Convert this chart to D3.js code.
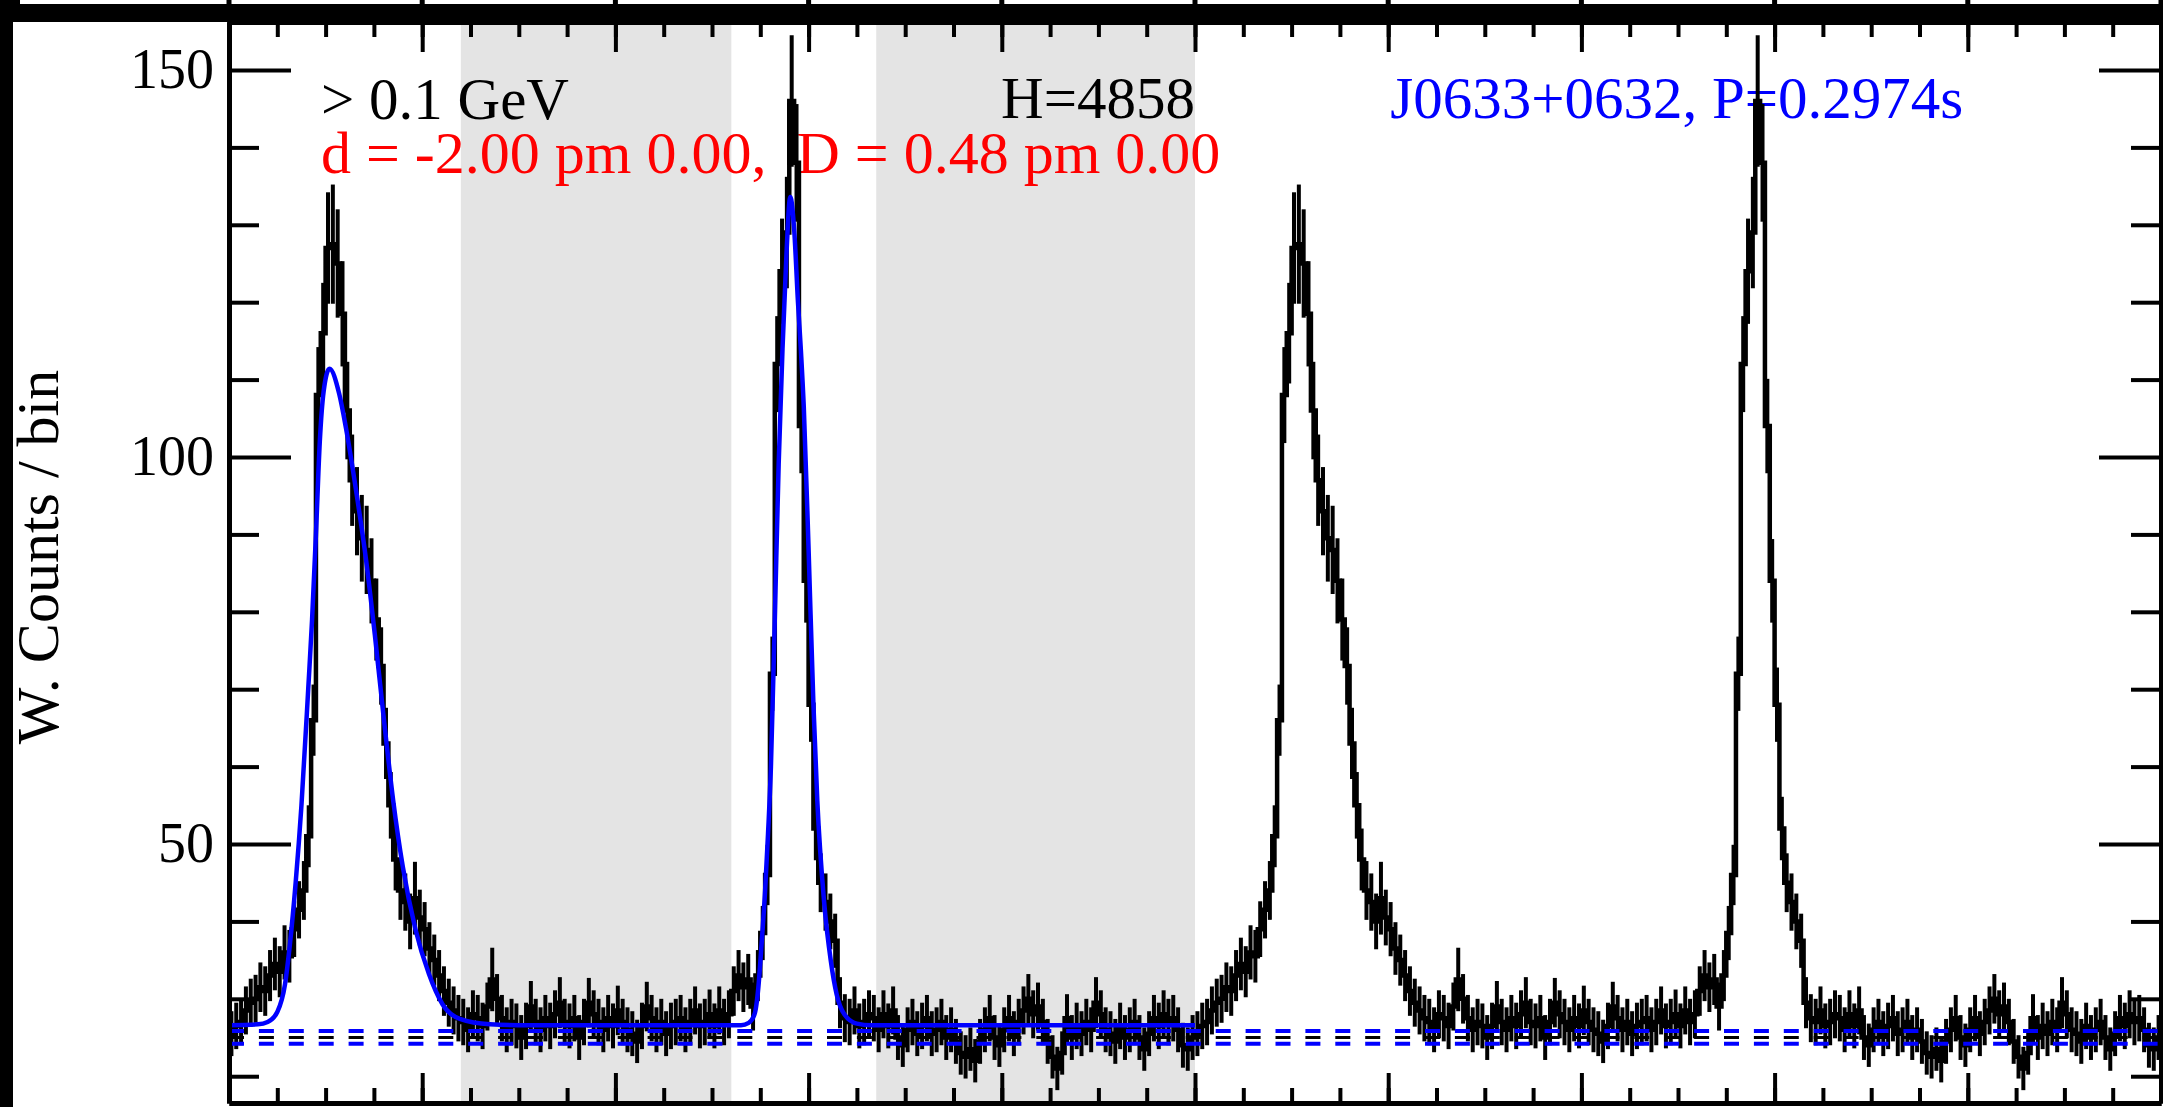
<!DOCTYPE html>
<html>
<head>
<meta charset="utf-8">
<title>J0633+0632 light curve</title>
<script src="https://cdn.jsdelivr.net/npm/d3@7"></script>
<style>
    html, body { margin: 0; padding: 0; background: #000; }
    svg { display: block; }
    text { font-family: 'Liberation Serif', 'DejaVu Serif', serif; }
</style>
</head>
<body>
<div id="chart"></div>
<script>
// weighted counts per phase bin, one rotation (200 bins), drawn twice
const counts = [
    25.5, 26.5, 27.0, 28.5, 29.5, 30.0, 31.5, 31.0, 33.0, 34.5,
    33.5, 36.0, 35.5, 39.0, 41.5, 44.0, 51.0, 66.0, 108.0, 116.0,
    127.0, 127.5, 125.0, 118.5, 106.0, 97.0, 93.0, 89.5, 88.0, 84.0,
    79.0, 73.0, 63.0, 55.0, 48.0, 44.0, 42.5, 40.0, 43.0, 40.5,
    39.0, 36.5, 35.0, 33.0, 31.0, 29.5, 28.5, 27.5, 27.0, 26.0,
    28.0, 27.5, 26.5, 29.0, 32.5, 30.0, 27.5, 26.0, 27.0, 26.5,
    25.0, 26.5, 29.0, 27.0, 26.0, 27.5, 26.5, 28.0, 29.5, 27.0,
    26.5, 27.5, 25.0, 27.0, 29.5, 28.0, 27.0, 26.0, 27.5, 26.5,
    28.5, 27.0, 26.0, 25.5, 24.5, 26.5, 29.0, 27.5, 26.0, 27.0,
    25.5, 26.5, 27.0, 27.5, 26.0, 27.0, 28.5, 26.5, 27.0, 28.0,
    26.5, 28.5, 27.0, 28.0, 31.0, 33.0, 31.5, 32.5, 29.0, 33.0,
    38.5, 46.0, 72.0, 112.0, 124.0, 129.0, 146.0, 138.0, 104.0, 84.0,
    68.0, 52.0, 45.0, 42.5, 40.0, 37.5, 29.5, 27.5, 27.0, 28.5,
    26.5, 27.0, 28.0, 27.5, 26.0, 28.0, 26.5, 28.5, 25.0, 24.0,
    26.0, 27.0, 25.5, 26.5, 27.5, 25.5, 26.0, 27.0, 25.0, 26.0,
    24.5, 23.0, 22.5, 23.5, 22.0, 24.5, 26.0, 27.5, 25.0, 24.0,
    26.0, 27.5, 25.5, 27.0, 28.5, 30.0, 28.0, 29.0, 27.0, 24.5,
    22.5, 21.0, 23.0, 27.5, 25.0, 26.5, 25.5, 27.0, 26.0, 29.5,
    28.0, 26.0, 25.5, 24.5, 26.5, 25.0, 26.0, 27.0, 25.0, 23.5,
    25.5, 27.5, 26.5, 28.0, 27.0, 27.5, 26.0, 24.0, 23.5, 25.0
];

const countErrors = [
    2.9, 3.0, 3.0, 3.1, 3.1, 3.1, 3.2, 3.2, 3.3, 3.4,
    3.3, 3.5, 3.4, 3.6, 3.7, 3.8, 4.0, 4.6, 6.2, 6.5,
    7.2, 7.7, 7.0, 6.8, 6.3, 5.9, 5.7, 5.6, 5.7, 5.5,
    5.3, 5.0, 4.6, 4.3, 4.0, 3.8, 3.7, 3.6, 4.7, 3.6,
    3.5, 3.4, 3.3, 3.3, 3.2, 3.1, 3.1, 3.0, 3.0, 2.9,
    3.1, 3.0, 3.0, 3.1, 4.1, 3.2, 3.0, 2.9, 3.0, 2.9,
    2.9, 3.0, 3.3, 3.0, 2.9, 3.0, 3.0, 3.1, 3.3, 3.0,
    2.9, 3.0, 2.9, 3.0, 3.2, 3.1, 3.0, 2.9, 3.0, 2.9,
    3.2, 3.0, 2.9, 2.9, 2.8, 3.0, 3.2, 3.0, 2.9, 3.0,
    2.9, 3.0, 3.0, 3.0, 2.9, 3.0, 3.1, 2.9, 3.0, 3.2,
    2.9, 3.1, 3.0, 3.1, 3.2, 3.3, 3.2, 3.3, 3.1, 3.3,
    3.5, 3.9, 4.8, 6.2, 6.8, 7.2, 8.5, 7.6, 6.1, 5.4,
    4.8, 4.1, 3.8, 3.7, 3.6, 3.5, 3.3, 3.1, 3.0, 3.1,
    2.9, 3.0, 3.1, 3.0, 2.9, 3.1, 2.9, 3.1, 2.9, 2.8,
    2.9, 3.0, 2.9, 3.0, 3.0, 2.9, 2.9, 3.0, 2.9, 2.9,
    2.9, 2.8, 2.8, 2.8, 2.8, 2.9, 2.9, 3.0, 2.9, 2.8,
    2.9, 3.0, 2.9, 3.0, 3.1, 3.2, 3.1, 3.1, 3.0, 2.9,
    2.8, 2.8, 2.8, 3.1, 2.9, 3.0, 2.9, 3.0, 2.9, 3.3,
    3.1, 2.9, 2.9, 2.9, 3.0, 2.9, 2.9, 3.0, 2.9, 2.8,
    2.9, 3.0, 3.0, 3.1, 3.0, 3.0, 2.9, 2.9, 2.8, 2.9
];

// blue pulse model (phase 0 - 1 only)
const fitPhase = [
    0.000, 0.030, 0.040, 0.050, 0.058, 0.063, 0.069, 0.075, 0.082, 0.086,
    0.090, 0.094, 0.098, 0.104, 0.114, 0.121, 0.132, 0.142, 0.151, 0.160,
    0.170, 0.180, 0.193, 0.207, 0.221, 0.239, 0.270, 0.300, 0.530, 0.538,
    0.544, 0.548, 0.551, 0.555, 0.558, 0.561, 0.565, 0.569, 0.573, 0.577,
    0.581, 0.585, 0.589, 0.592, 0.595, 0.600, 0.605, 0.609, 0.616, 0.623,
    0.629, 0.637, 0.650, 0.665, 1.000
];
const fitCounts = [
    26.6, 26.7, 27.0, 28.3, 31.9, 37.0, 45.0, 55.0, 70.0, 79.0,
    90.0, 102.0, 108.5, 111.4, 108.2, 103.8, 95.3, 86.6, 77.0, 66.5,
    55.6, 47.0, 39.0, 33.2, 29.3, 27.4, 26.7, 26.6, 26.6, 26.9,
    28.0, 31.5, 36.5, 44.0, 51.3, 60.0, 79.0, 99.0, 114.0, 126.0,
    133.6, 129.5, 120.0, 113.8, 106.5, 88.0, 68.0, 55.6, 42.6, 34.9,
    30.6, 28.0, 26.8, 26.6, 26.6
];

// off-pulse intervals, shaded grey
const offPulseStart = [0.24, 0.67];
const offPulseEnd = [0.52, 1.0];

// background level and its band
const bgLevels = [25.85, 25.0, 24.2];
const bgColors = ['#0000ff', '#000000', '#0000ff'];
const bgWidths = [4, 3, 4];

const yTickLabels = [50, 100, 150];

const energyText = '> 0.1 GeV';
const fitText = 'd = -2.00 pm 0.00,  D = 0.48 pm 0.00';
const htestText = 'H=4858';
const pulsarText = 'J0633+0632, P=0.2974s';
const yTitle = 'W. Counts / bin';

const width = 2163;
const height = 1107;
const plot = { left: 229, right: 2161, top: 22, bottom: 1103 };

const svg = d3.select('#chart').append('svg')
    .attr('width', width)
    .attr('height', height);

// black surround of the crop, white figure inside it
svg.append('rect').attr('width', width).attr('height', height).attr('fill', '#000');
svg.append('rect')
    .attr('x', 13).attr('y', 22)
    .attr('width', width - 13).attr('height', height - 22)
    .attr('fill', '#fff');
svg.append('rect')
    .attr('x', 20).attr('y', 0)
    .attr('width', width - 20).attr('height', 4)
    .attr('fill', '#fff');

const x = d3.scaleLinear().domain([0, 2]).range([plot.left, plot.right]);
const y = d3.scaleLinear().domain([16.54, 156.2]).range([plot.bottom, plot.top]);

// ticks of the panel above, just visible in the top strip
svg.append('g').selectAll('rect')
    .data(x.ticks(10))
    .enter()
    .append('rect')
    .attr('x', d => x(d) - 2.5)
    .attr('y', 0)
    .attr('width', 5)
    .attr('height', 4)
    .attr('fill', '#000');

svg.append('clipPath').attr('id', 'plot-clip')
    .append('rect')
    .attr('x', plot.left).attr('y', plot.top)
    .attr('width', plot.right - plot.left).attr('height', plot.bottom - plot.top);

// grey off-pulse bands
const bands = offPulseStart.map((s, i) => [s, offPulseEnd[i]]);
svg.append('g').selectAll('rect')
    .data(bands)
    .enter()
    .append('rect')
    .attr('x', d => x(d[0]))
    .attr('y', plot.top)
    .attr('width', d => x(d[1]) - x(d[0]))
    .attr('height', plot.bottom - plot.top)
    .attr('fill', '#e4e4e4');

// labels inside the frame
const labels = svg.append('g').attr('font-size', 59);
labels.append('text').attr('x', 321).attr('y', 119).attr('fill', '#000').text(energyText);
labels.append('text').attr('x', 321).attr('y', 173)
    .attr('font-size', 60)
    .style('white-space', 'pre')
    .attr('fill', '#ff0000')
    .text(fitText);
labels.append('text').attr('x', x(1.0)).attr('y', 118).attr('text-anchor', 'end').attr('fill', '#000').text(htestText);
labels.append('text').attr('x', x(1.2) + 2).attr('y', 118).attr('fill', '#0000ff').text(pulsarText);

const data = svg.append('g').attr('clip-path', 'url(#plot-clip)');

// histogram, two rotations
const nBins = counts.length;
const bins = [];
[0, 1].forEach(cycle => {
    counts.forEach((c, i) => {
        bins.push({ x0: cycle + i / nBins, xc: cycle + (i + 0.5) / nBins, v: c, e: countErrors[i] });
    });
});
const stepPoints = bins.map(b => [b.x0, b.v]).concat([[2, bins[bins.length - 1].v]]);

const step = d3.line()
    .x(d => x(d[0]))
    .y(d => y(d[1]))
    .curve(d3.curveStepAfter);

data.append('path')
    .datum(stepPoints)
    .attr('fill', 'none')
    .attr('stroke', '#000')
    .attr('stroke-width', 4.5)
    .attr('d', step);

data.append('g').selectAll('line')
    .data(bins)
    .enter()
    .append('line')
    .attr('x1', d => x(d.xc))
    .attr('x2', d => x(d.xc))
    .attr('y1', d => y(d.v - d.e))
    .attr('y2', d => y(d.v + d.e))
    .attr('stroke', '#000')
    .attr('stroke-width', 4);

// background level lines
data.append('g').selectAll('line')
    .data(bgLevels)
    .enter()
    .append('line')
    .attr('x1', x(0))
    .attr('x2', x(2))
    .attr('y1', d => y(d))
    .attr('y2', d => y(d))
    .attr('stroke', (d, i) => bgColors[i])
    .attr('stroke-width', (d, i) => bgWidths[i])
    .attr('stroke-dasharray', '15,14.9');

// pulse model
const fitLine = d3.line()
    .x((d, i) => x(fitPhase[i]))
    .y(d => y(d))
    .curve(d3.curveMonotoneX);

data.append('path')
    .datum(fitCounts)
    .attr('fill', 'none')
    .attr('stroke', '#0000ff')
    .attr('stroke-width', 4.5)
    .attr('d', fitLine);

// frame with inward ticks
const styleAxis = g => {
    g.attr('font-family', "'Liberation Serif', serif").attr('font-size', 56);
    g.select('.domain').attr('stroke-width', 5);
    g.selectAll('.tick line').attr('stroke-width', 4);
    g.selectAll('.tick text').attr('fill', '#000');
};

const yMinor = y.ticks(14).filter(d => !yTickLabels.includes(d));

svg.append('g')
    .attr('transform', `translate(${plot.left},0)`)
    .call(d3.axisLeft(y).tickValues(yMinor).tickSize(-30).tickSizeOuter(0).tickFormat(''))
    .call(styleAxis);
svg.append('g')
    .attr('transform', `translate(${plot.left},0)`)
    .call(d3.axisLeft(y).tickValues(yTickLabels).tickSize(-62).tickSizeOuter(0).tickPadding(15).tickFormat(d3.format('d')))
    .call(styleAxis);

svg.append('g')
    .attr('transform', `translate(${plot.right},0)`)
    .call(d3.axisRight(y).tickValues(yMinor).tickSize(-30).tickSizeOuter(0).tickFormat(''))
    .call(styleAxis);
svg.append('g')
    .attr('transform', `translate(${plot.right},0)`)
    .call(d3.axisRight(y).tickValues(yTickLabels).tickSize(-62).tickSizeOuter(0).tickFormat(''))
    .call(styleAxis);

svg.append('g')
    .attr('transform', `translate(0,${plot.top})`)
    .call(d3.axisTop(x).ticks(40).tickSize(-15).tickSizeOuter(0).tickFormat(''))
    .call(styleAxis);
svg.append('g')
    .attr('transform', `translate(0,${plot.top})`)
    .call(d3.axisTop(x).ticks(10).tickSize(-30).tickSizeOuter(0).tickFormat(''))
    .call(styleAxis);

svg.append('g')
    .attr('transform', `translate(0,${plot.bottom})`)
    .call(d3.axisBottom(x).ticks(40).tickSize(-15).tickSizeOuter(0).tickFormat(''))
    .call(styleAxis);
svg.append('g')
    .attr('transform', `translate(0,${plot.bottom})`)
    .call(d3.axisBottom(x).ticks(10).tickSize(-30).tickSizeOuter(0).tickFormat(''))
    .call(styleAxis);

// y axis title
svg.append('text')
    .attr('transform', 'translate(58,557) rotate(-90)')
    .attr('text-anchor', 'middle')
    .attr('font-size', 60)
    .attr('fill', '#000')
    .text(yTitle);
</script>
</body>
</html>
